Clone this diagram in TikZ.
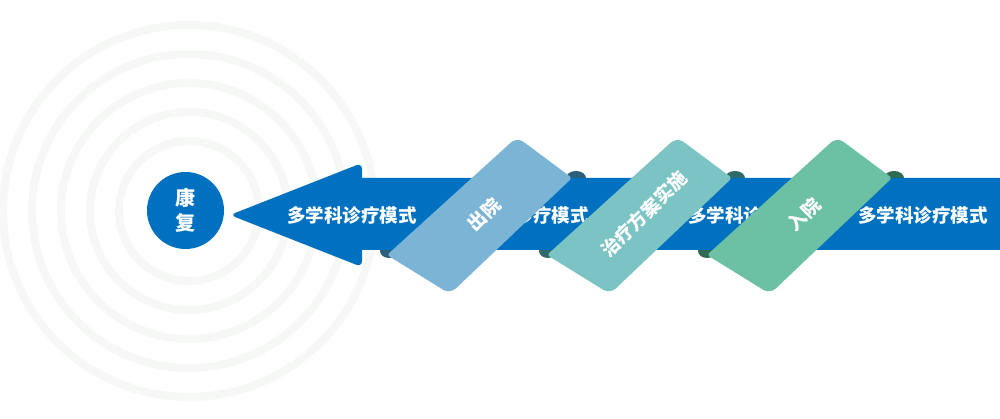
\documentclass[tikz,border=0pt]{standalone}
\usepackage{fontspec}
\newfontfamily\cjk{Noto Sans CJK SC}
\usetikzlibrary{positioning}
\definecolor{shaftblue}{HTML}{0070C0}
\definecolor{ringgray}{HTML}{F5F8F5}
\definecolor{ribA}{HTML}{7BB4D4}
\definecolor{ribAdark}{HTML}{2E5F7A}
\definecolor{ribB}{HTML}{7CC4C4}
\definecolor{ribBdark}{HTML}{2E6B6A}
\definecolor{ribC}{HTML}{6CC0A4}
\definecolor{ribCdark}{HTML}{2E6B50}

\begin{document}
\begin{tikzpicture}[x=1pt, y=-1pt,
  lbl/.style={text=white, font=\cjk\bfseries\fontsize{18.5}{25}\selectfont, inner sep=0pt},
  ring/.style={draw=ringgray, line width=8pt}]

	\useasboundingbox (0,0) rectangle (1000,419);

	\def\step{160};
	\def\bump{159};

	% rings round the goal
	\foreach \r in {70,99,128,157,186} {
		\draw[ring] (189,211) circle (\r pt);
	}

	% ends of the ribbons behind the shaft
	\foreach \i/\dk in {0/ribAdark, 1/ribBdark, 2/ribCdark} {
		\fill[\dk] (576+\i*\bump,178) ellipse (10pt and 7pt);
		\fill[\dk] (389+\i*\bump,251) ellipse (9pt and 7pt);
	}

	% shaft and head
	\fill[shaftblue] (1000,178) -- (362,178) [rounded corners=6pt] -- (362,163) -- (230,215) -- (362,267) [sharp corners] -- (362,250) -- (1000,250) -- cycle;

	\foreach \x [count=\k] in {352,524,753,923} {
		\node[lbl] (mode\k) at (\x,215) {多学科诊疗模式};
	}

	\node[lbl, circle, fill=shaftblue, minimum size=77pt, align=center, font=\cjk\bfseries\fontsize{20}{25}\selectfont] (rehab) at (185.5,210.5) {康\\复};

	% ribbons in front
	\foreach \i/\col/\txt in {0/ribA/出院, 1/ribB/治疗方案实施, 2/ribC/入院} {
		\fill[\col] (517+\i*\step,137) [rounded corners=3pt] -- (572+\i*\step,178) [rounded corners=8pt] -- (450+\i*\step,294) [rounded corners=3pt] -- (387+\i*\step,255) [rounded corners=8pt] -- cycle;
		\node[lbl, rotate=45] (stage\i) at (484+\i*\step,214) {\txt};
	}

\end{tikzpicture}
\end{document}
